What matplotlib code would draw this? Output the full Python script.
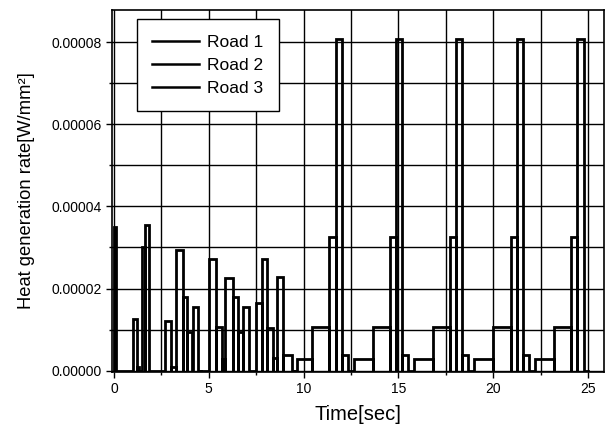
import matplotlib
matplotlib.use("Agg")
import matplotlib.pyplot as plt
from matplotlib.ticker import MultipleLocator, FixedLocator

plt.rcParams['font.family'] = ['Liberation Sans', 'DejaVu Sans']

SCALE = 1e-5

# Road 1: block start times [sec] and block values [x1e-5 W/mm^2]
road1_t = [0.0, 0.12, 1.0, 1.2, 1.35, 1.5, 1.65, 1.85, 2.7, 3.0, 3.3, 3.62, 3.87, 4.1, 4.15, 4.45, 4.6]
road1_v = [3.5, 0.0, 1.25, 0.1, 0.0, 3.0, 3.54, 0.0, 1.22, 0.1, 2.95, 1.8, 0.93, 0.0, 1.56, 0.0, 0.0]

# Road 2
road2_t = [4.6, 5.03, 5.38, 5.68, 5.85, 6.26, 6.56, 6.8, 7.12, 7.47, 7.8, 8.05, 8.37, 8.6, 8.9, 9.37, 9.5]
road2_v = [0.0, 2.73, 1.06, 0.29, 2.25, 1.8, 0.93, 1.56, 0.0, 1.66, 2.73, 1.05, 0.3, 2.27, 0.39, 0.0, 0.0]

# Road 3
road3_t = [9.5, 9.65, 10.47, 11.37, 11.69, 12.02, 12.35,
           12.65, 13.64, 14.54, 14.86, 15.19, 15.52,
           15.82, 16.82, 17.72, 18.04, 18.37, 18.70,
           19.0, 20.02, 20.92, 21.24, 21.57, 21.9,
           22.2, 23.2, 24.1, 24.42, 24.8, 25.0]
road3_v = [0.0, 0.29, 1.07, 3.25, 8.07, 0.39, 0.0,
           0.29, 1.07, 3.25, 8.07, 0.39, 0.0,
           0.29, 1.07, 3.25, 8.07, 0.39, 0.0,
           0.29, 1.07, 3.25, 8.07, 0.39, 0.0,
           0.29, 1.07, 3.25, 8.07, 0.0, 0.0]

labels = ["Road 1", "Road 2", "Road 3"]

x_ticks = [0, 5, 10, 15, 20, 25]
y_ticks = [0.0, 2e-5, 4e-5, 6e-5, 8e-5]
y_ticklabels = ["0.00000", "0.00002", "0.00004", "0.00006", "0.00008"]


def block_path(t, v):
    """Outline every constant block as a rectangle rising from zero."""
    xs, ys = [t[0]], [0.0]
    for i in range(len(t) - 1):
        val = v[i] * SCALE
        xs += [t[i], t[i], t[i + 1], t[i + 1]]
        ys += [0.0, val, val, 0.0]
    return xs, ys


fig = plt.figure(figsize=(6.12, 4.34), dpi=100)
ax = fig.add_axes([0.183, 0.143, 0.804, 0.834])

for t, v, lab in zip([road1_t, road2_t, road3_t],
                     [road1_v, road2_v, road3_v], labels):
    xs, ys = block_path(t, v)
    ax.plot(xs, ys, color='black', lw=2.0, label=lab, solid_joinstyle='miter')

ax.set_xlim(-0.1, 25.85)
ax.set_ylim(-0.03e-5, 8.78e-5)

ax.xaxis.set_major_locator(FixedLocator(x_ticks))
ax.xaxis.set_minor_locator(MultipleLocator(2.5))
ax.yaxis.set_major_locator(FixedLocator(y_ticks))
ax.set_yticklabels(y_ticklabels)
ax.yaxis.set_minor_locator(MultipleLocator(1e-5))

ax.grid(which='both', color='black', lw=1.0)
ax.set_axisbelow(True)

ax.tick_params(which='major', direction='out', length=4, width=1.0,
               labelsize=10)
ax.tick_params(which='minor', direction='out', length=2, width=1.0)
for s in ax.spines.values():
    s.set_linewidth(1.2)
    s.set_color('black')

ax.set_xlabel("Time[sec]", fontsize=14.5, labelpad=6)
ax.set_ylabel("Heat generation rate[W/mm²]", fontsize=13.2, labelpad=12)

leg = ax.legend(loc='upper left', bbox_to_anchor=(0.05, 0.975),
                fancybox=False, frameon=True, edgecolor='black',
                fontsize=12.5, handlelength=2.7, handletextpad=0.45,
                labelspacing=0.45, borderpad=0.9, borderaxespad=0.0)
leg.get_frame().set_linewidth(1.0)
leg.get_frame().set_alpha(1.0)
for h in leg.legend_handles:
    h.set_linewidth(1.8)

fig.savefig("out.png", dpi=100)
